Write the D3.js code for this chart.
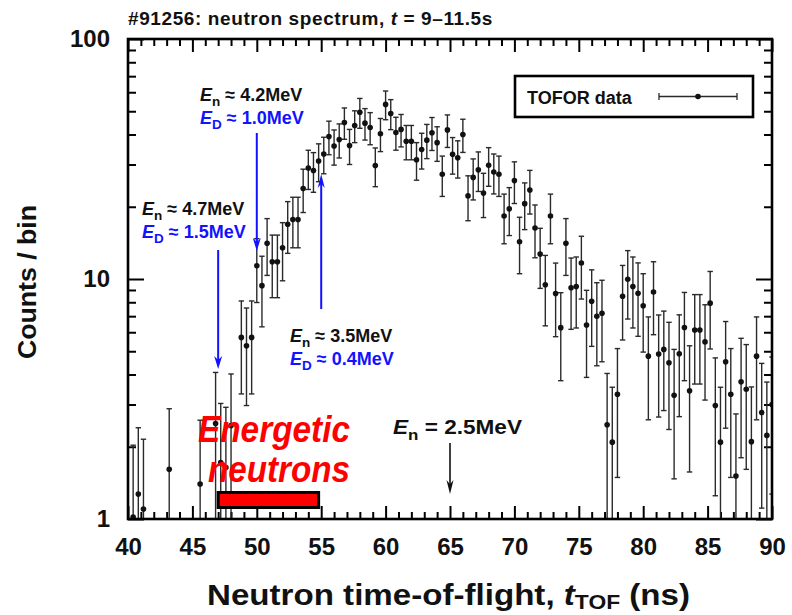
<!DOCTYPE html>
<html>
<head>
<meta charset="utf-8">
<script src="https://cdn.jsdelivr.net/npm/d3@7"></script>
<style>
  body { margin: 0; background: #fff; }
  svg { display: block; font-family: "Liberation Sans", Arial, Helvetica, sans-serif; font-weight: bold; }
</style>
</head>
<body>
<svg id="chart" width="792" height="615"></svg>
<script>
// TOFOR neutron time-of-flight spectrum, shot #91256, t = 9–11.5 s
const tof = [
  40.4, 40.8, 41.2, 43.2, 45.6, 46.8, 47.2, 47.6, 48.0,
  48.8, 49.2, 49.6, 50.0, 50.4, 50.8, 51.2, 51.6, 52.0, 52.4, 52.8, 53.2, 53.6, 54.0, 54.4, 54.8,
  55.2, 55.6, 56.0, 56.4, 56.8, 57.2, 57.6, 58.0, 58.4, 58.8, 59.2, 59.6,
  60.0, 60.4, 60.8, 61.2, 61.6, 62.0, 62.4, 62.8, 63.2, 63.6, 64.0, 64.4, 64.8,
  65.2, 65.6, 66.0, 66.4, 66.8, 67.2, 67.6, 68.0, 68.4, 68.8, 69.2, 69.6,
  70.0, 70.4, 70.8, 71.2, 71.6, 72.0, 72.4, 72.8, 73.2, 73.6, 74.0, 74.4, 74.8,
  75.2, 75.6, 76.0, 76.4, 76.8, 77.2, 77.6, 78.0, 78.4, 78.8, 79.2, 79.6,
  80.0, 80.4, 80.8, 81.2, 81.6, 82.0, 82.4, 82.8, 83.2, 83.6, 84.0, 84.4, 84.8,
  85.2, 85.6, 86.0, 86.4, 86.8, 87.2, 87.6, 88.0, 88.4, 88.8, 89.2, 89.6, 90.0
];
const counts = [
  1.02, 1.27, 1.10, 1.61, 1.40, 2.50, 1.72, 1.64, 2.45,
  5.71, 5.27, 5.71, 11.35, 9.38, 14.1, 11.8, 11.8, 13.5, 16.9, 17.7, 17.7, 23.8, 29.0, 28.3, 31.0,
  33.2, 39.2, 35.8, 38.1, 44.9, 36.0, 43.6, 49.5, 44.6, 42.8, 29.7, 40.3,
  53.4, 48.9, 40.8, 42.0, 37.5, 37.5, 31.4, 34.6, 37.9, 40.7, 37.0, 27.3, 41.8,
  33.1, 32.0, 40.0, 22.2, 26.5, 28.5, 22.8, 29.8, 27.9, 27.3, 18.3, 19.6,
  25.7, 14.3, 20.6, 23.5, 16.3, 12.7, 9.46, 18.3, 8.70, 6.27, 14.1, 9.20, 9.30,
  11.66, 6.43, 8.08, 7.00, 7.20, 2.47, 2.09, 3.31, 8.48, 9.97, 9.30, 8.72,
  7.74, 4.77, 8.83, 4.87, 5.09, 4.48, 3.28, 4.88, 6.28, 3.42, 6.13, 6.13, 5.47,
  7.93, 2.97, 2.09, 4.52, 3.31, 1.51, 3.73, 3.47, 2.10, 4.77, 2.78, 2.23, 3.00
];
const errors = [
  1.01, 1.13, 1.05, 1.27, 1.18, 1.58, 1.31, 1.28, 1.57,
  2.39, 2.30, 2.39, 3.37, 3.06, 3.75, 3.44, 3.44, 3.67, 4.11, 4.21, 4.21, 4.88, 5.39, 5.32, 5.57,
  5.76, 6.26, 5.98, 6.17, 6.70, 6.00, 6.60, 7.04, 6.68, 6.54, 5.45, 6.35,
  7.31, 6.99, 6.39, 6.48, 6.12, 6.12, 5.60, 5.88, 6.16, 6.38, 6.08, 5.22, 6.47,
  5.75, 5.66, 6.32, 4.71, 5.15, 5.34, 4.77, 5.46, 5.28, 5.22, 4.28, 4.43,
  5.07, 3.78, 4.54, 4.85, 4.04, 3.56, 3.08, 4.28, 2.95, 2.50, 3.75, 3.03, 3.05,
  3.41, 2.54, 2.84, 2.65, 2.68, 1.57, 1.45, 1.82, 2.91, 3.16, 3.05, 2.95,
  2.78, 2.18, 2.97, 2.21, 2.26, 2.12, 1.81, 2.21, 2.51, 1.85, 2.48, 2.48, 2.34,
  2.82, 1.72, 1.45, 2.13, 1.82, 1.23, 1.93, 1.86, 1.45, 2.18, 1.67, 1.49, 1.73
];

const xMajorTicks = [40, 45, 50, 55, 60, 65, 70, 75, 80, 85, 90];
const xMinorTicks = [41, 42, 43, 44, 46, 47, 48, 49, 51, 52, 53, 54, 56, 57, 58, 59,
  61, 62, 63, 64, 66, 67, 68, 69, 71, 72, 73, 74, 76, 77, 78, 79, 81, 82, 83, 84, 86, 87, 88, 89];
const yMajorTicks = [1, 10, 100];
const yMinorTicks = [2, 3, 4, 5, 6, 7, 8, 9, 20, 30, 40, 50, 60, 70, 80, 90];

// energy markers on the time-of-flight axis (ns)
const markerEn47 = 47.0, markerEn42 = 50.0, markerEn35 = 55.0, markerEn25 = 65.0;
const energeticRange = [47.0, 54.8];

const BLUE = "#1212ff", RED = "#ff0000", INK = "#111";

const svg = d3.select("#chart");
const L = 128, R = 772, T = 39, B = 519;
const x = d3.scaleLinear().domain([40, 90]).range([L, R]);
const y = d3.scaleLog().domain([1, 100]).range([B, T]);

svg.append("rect").attr("width", 792).attr("height", 615).attr("fill", "#fff");

// title
const title = svg.append("text").attr("x", 128).attr("y", 25)
  .attr("font-size", 19).attr("letter-spacing", 0.6).attr("fill", INK);
title.append("tspan").text("#91256: neutron spectrum, ");
title.append("tspan").attr("font-style", "italic").text("t");
title.append("tspan").text(" = 9\u201311.5s");

// clip region for data
svg.append("clipPath").attr("id", "plotClip")
  .append("rect").attr("x", L).attr("y", T).attr("width", R - L).attr("height", B - T);

// axes: ticks point inward, mirrored on all four sides
function styleAxis(g) {
  g.select(".domain").remove();
  g.selectAll(".tick line").attr("stroke", "#000").attr("stroke-width", 2);
  g.selectAll("text").attr("font-size", 24).attr("font-weight", "bold")
    .attr("fill", INK).attr("font-family", "Liberation Sans, Arial, sans-serif");
}
svg.append("g").attr("transform", `translate(0,${B})`)
  .call(d3.axisBottom(x).tickValues(xMajorTicks).tickSize(-13).tickPadding(19).tickFormat(d3.format("d")))
  .call(styleAxis);
svg.append("g").attr("transform", `translate(0,${B})`)
  .call(d3.axisBottom(x).tickValues(xMinorTicks).tickSize(-7).tickFormat(""))
  .call(styleAxis);
svg.append("g").attr("transform", `translate(0,${T})`)
  .call(d3.axisTop(x).tickValues(xMajorTicks).tickSize(-13).tickFormat(""))
  .call(styleAxis);
svg.append("g").attr("transform", `translate(0,${T})`)
  .call(d3.axisTop(x).tickValues(xMinorTicks).tickSize(-7).tickFormat(""))
  .call(styleAxis);
svg.append("g").attr("transform", `translate(${L},0)`)
  .call(d3.axisLeft(y).tickValues(yMajorTicks).tickSize(-16).tickPadding(18).tickFormat(d3.format("d")))
  .call(styleAxis);
svg.append("g").attr("transform", `translate(${L},0)`)
  .call(d3.axisLeft(y).tickValues(yMinorTicks).tickSize(-8).tickFormat(""))
  .call(styleAxis);
svg.append("g").attr("transform", `translate(${R},0)`)
  .call(d3.axisRight(y).tickValues(yMajorTicks).tickSize(-16).tickFormat(""))
  .call(styleAxis);
svg.append("g").attr("transform", `translate(${R},0)`)
  .call(d3.axisRight(y).tickValues(yMinorTicks).tickSize(-8).tickFormat(""))
  .call(styleAxis);

// axis titles
const xt = svg.append("text").attr("x", 207).attr("y", 605)
  .attr("font-size", 29).attr("fill", INK)
  .attr("textLength", 483).attr("lengthAdjust", "spacingAndGlyphs");
xt.append("tspan").text("Neutron time-of-flight, ");
xt.append("tspan").attr("font-style", "italic").text("t");
xt.append("tspan").attr("font-size", 20).attr("dy", 4).text("TOF");
xt.append("tspan").attr("dy", -4).text(" (ns)");

svg.append("text").attr("transform", "translate(36,282) rotate(-90)")
  .attr("text-anchor", "middle").attr("font-size", 26).attr("fill", INK)
  .attr("textLength", 154).attr("lengthAdjust", "spacingAndGlyphs")
  .text("Counts / bin");

// data: points with vertical error bars
const pts = tof.map((t, i) => ({ t, v: counts[i], e: errors[i] }));
const data = svg.append("g").attr("clip-path", "url(#plotClip)");
const cap = 2.7;
const bars = data.selectAll("g.pt").data(pts).join("g").attr("class", "pt");
bars.append("line")
  .attr("x1", d => x(d.t)).attr("x2", d => x(d.t))
  .attr("y1", d => y(d.v + d.e)).attr("y2", d => y(Math.max(d.v - d.e, 0.3)))
  .attr("stroke", "#2a2a2a").attr("stroke-width", 1.4);
bars.append("line")
  .attr("x1", d => x(d.t) - cap).attr("x2", d => x(d.t) + cap)
  .attr("y1", d => y(d.v + d.e)).attr("y2", d => y(d.v + d.e))
  .attr("stroke", "#2a2a2a").attr("stroke-width", 1.4);
bars.filter(d => d.v - d.e > 1).append("line")
  .attr("x1", d => x(d.t) - cap).attr("x2", d => x(d.t) + cap)
  .attr("y1", d => y(d.v - d.e)).attr("y2", d => y(d.v - d.e))
  .attr("stroke", "#2a2a2a").attr("stroke-width", 1.4);
bars.append("circle")
  .attr("cx", d => x(d.t)).attr("cy", d => y(d.v)).attr("r", 2.8).attr("fill", INK);

// plot frame
svg.append("rect").attr("x", L).attr("y", T).attr("width", R - L).attr("height", B - T)
  .attr("fill", "none").attr("stroke", "#000").attr("stroke-width", 2.6);

// legend
svg.append("rect").attr("x", 515).attr("y", 76).attr("width", 238).attr("height", 41)
  .attr("fill", "#fff").attr("stroke", "#000").attr("stroke-width", 2.6);
svg.append("text").attr("x", 527).attr("y", 103.5).attr("font-size", 18).attr("fill", INK)
  .text("TOFOR data");
const lg = svg.append("g").attr("stroke", "#2a2a2a").attr("stroke-width", 1.3);
lg.append("line").attr("x1", 659).attr("x2", 737).attr("y1", 96.5).attr("y2", 96.5);
lg.append("line").attr("x1", 659).attr("x2", 659).attr("y1", 93).attr("y2", 100);
lg.append("line").attr("x1", 737).attr("x2", 737).attr("y1", 93).attr("y2", 100);
svg.append("circle").attr("cx", 698).attr("cy", 96.5).attr("r", 2.8).attr("fill", INK);

// energy annotations
function energyLabel(x0, yb, sub, rel, value, color, size, len) {
  const t = svg.append("text").attr("x", x0).attr("y", yb).attr("font-size", size).attr("fill", color);
  if (len) t.attr("textLength", len).attr("lengthAdjust", "spacingAndGlyphs");
  t.append("tspan").attr("font-style", "italic").text("E");
  t.append("tspan").attr("font-size", size * 0.75).attr("dy", size * 0.3).text(sub);
  t.append("tspan").attr("dy", -size * 0.3).text(` ${rel} ${value}`);
  return t;
}
energyLabel(200, 101, "n", "\u2248", "4.2MeV", INK, 18);
energyLabel(200, 124, "D", "\u2248", "1.0MeV", BLUE, 18);
energyLabel(142, 215, "n", "\u2248", "4.7MeV", INK, 18);
energyLabel(142, 238, "D", "\u2248", "1.5MeV", BLUE, 18);
energyLabel(290, 342, "n", "\u2248", "3.5MeV", INK, 18);
energyLabel(290, 365, "D", "\u2248", "0.4MeV", BLUE, 18);
energyLabel(393, 434, "n", "=", "2.5MeV", INK, 20, 129);

// vertical arrows; tip is at y2
function vArrow(xp, y1, y2, color, w, headLen, headW) {
  const dir = y2 > y1 ? 1 : -1;
  svg.append("line").attr("x1", xp).attr("x2", xp).attr("y1", y1).attr("y2", y2 - dir * headLen * 0.6)
    .attr("stroke", color).attr("stroke-width", w);
  const p = d3.path();
  p.moveTo(xp, y2);
  p.lineTo(xp - headW / 2, y2 - dir * headLen);
  p.lineTo(xp, y2 - dir * headLen * 0.7);
  p.lineTo(xp + headW / 2, y2 - dir * headLen);
  p.closePath();
  svg.append("path").attr("d", p.toString()).attr("fill", color);
}
vArrow(x(markerEn42), 133, 251, BLUE, 2, 13, 8);
vArrow(x(markerEn47), 250, 369, BLUE, 2, 13, 8);
vArrow(x(markerEn35), 309, 174, BLUE, 2, 14, 7);
vArrow(x(markerEn25), 443, 494, INK, 1.6, 14, 7);

// energetic-neutron band
svg.append("text").attr("x", 198).attr("y", 442).attr("font-size", 37).attr("font-style", "italic")
  .attr("fill", RED).attr("textLength", 152).attr("lengthAdjust", "spacingAndGlyphs").text("Energetic");
svg.append("text").attr("x", 208).attr("y", 482).attr("font-size", 37).attr("font-style", "italic")
  .attr("fill", RED).attr("textLength", 142).attr("lengthAdjust", "spacingAndGlyphs").text("neutrons");
svg.append("rect")
  .attr("x", x(energeticRange[0])).attr("y", 492.5)
  .attr("width", x(energeticRange[1]) - x(energeticRange[0])).attr("height", 15)
  .attr("fill", RED).attr("stroke", "#000").attr("stroke-width", 3);
</script>
</body>
</html>
